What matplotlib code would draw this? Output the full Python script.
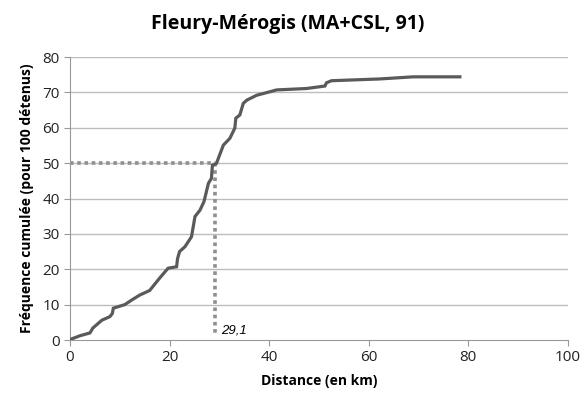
import matplotlib.pyplot as plt

# distances (km) et fréquence cumulée (pour 100 détenus)
dist = [0, 0.3, 2, 4, 4.6, 5.5, 6.4, 8, 8.5, 8.7, 11, 12.5, 14, 16, 18, 19.7, 21.4,
        21.6, 22, 23.1, 24.4, 25.1, 26.1, 26.9, 27.8, 28.4, 28.6, 29.4, 30.8,
        32.1, 33.1, 33.3, 34.1, 34.8, 35.5, 37.5, 40.2, 41.5, 47.5, 51.2, 51.5,
        52.5, 62.2, 68.9, 78.3]
freq = [0, 0.3, 1.2, 2, 3.4, 4.5, 5.6, 6.6, 7.5, 9, 10, 11.4, 12.7, 14, 17.5, 20.3,
        20.7, 23, 25, 26.4, 29.2, 34.9, 36.7, 39.1, 44.3, 45.7, 49.4, 49.9, 55.1,
        57, 59.9, 62.7, 63.6, 66.9, 67.8, 69.2, 70.2, 70.7, 71.1, 71.8, 72.7,
        73.3, 73.8, 74.4, 74.4]
mediane = 29.1
mediane_label = "29,1"

TITLE = "Fleury-Mérogis (MA+CSL, 91)"
XLABEL = "Distance (en km)"
YLABEL = "Fréquence cumulée (pour 100 détenus)"

plt.rcParams['font.family'] = ['Open Sans', 'DejaVu Sans']

fig = plt.figure(figsize=(5.81, 3.96), dpi=100)
ax = fig.add_axes([0.1205, 0.1414, 0.857, 0.7146])

for y in range(10, 81, 10):
    ax.axhline(y, color='#bdbdbd', lw=1.0, zorder=0)

ax.plot(dist, freq, color='#5a5a5a', lw=2.3, solid_joinstyle='miter', zorder=3)

ax.plot([0, mediane], [50, 50], color='#8f8f8f', lw=2.6, ls=(0, (1, 1)), zorder=2)
ax.plot([mediane, mediane], [50, 1.4], color='#8f8f8f', lw=2.6, ls=(0, (1, 1)), zorder=2)
ax.text(mediane + 1.2, 1.0, mediane_label, fontsize=9.5, style='italic',
        family=['Liberation Sans'], va='bottom', ha='left')

ax.set_xlim(0, 100)
ax.set_ylim(0, 80)
ax.set_xticks(range(0, 101, 20))
ax.set_yticks(range(0, 81, 10))
ax.tick_params(axis='both', labelsize=11, colors='#222222', length=4, color='#999999')
for s in ['top', 'right']:
    ax.spines[s].set_visible(False)
for s in ['left', 'bottom']:
    ax.spines[s].set_color('#999999')

ax.set_xlabel(XLABEL, fontsize=10, fontweight='bold', labelpad=6)
ax.set_ylabel(YLABEL, fontsize=10, fontweight='bold', labelpad=6)
fig.text(0.496, 0.94, TITLE, fontsize=14, fontweight='bold', ha='center', va='center')

fig.savefig('out.png', dpi=100)
